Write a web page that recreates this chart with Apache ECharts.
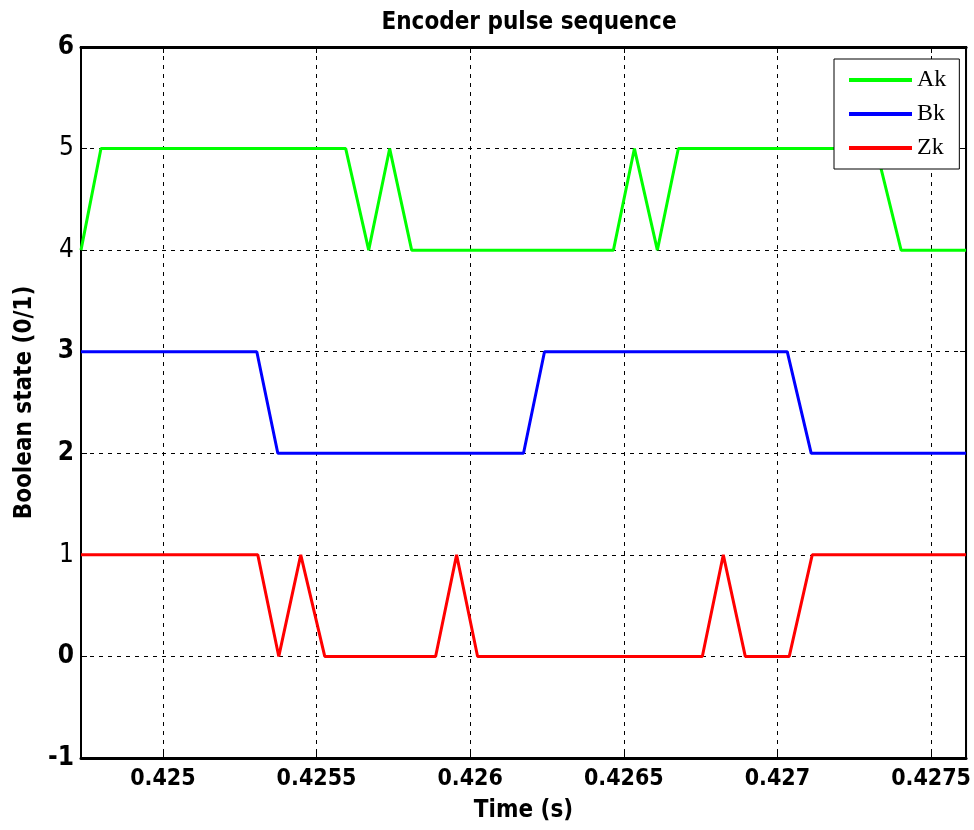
<!DOCTYPE html>
<html><head><meta charset="utf-8">
<script src="https://cdn.jsdelivr.net/npm/echarts@6/dist/echarts.min.js"></script>
<style>html,body{margin:0;padding:0;background:#fff;overflow:hidden}#c{width:974px;height:830px}</style>
</head><body><div id="c"></div>
<script>
const xTicks = [0.425, 0.4255, 0.426, 0.4265, 0.427, 0.4275];
const xTickLabels = ['0.425', '0.4255', '0.426', '0.4265', '0.427', '0.4275'];
const yTicks = [-1, 0, 1, 2, 3, 4, 5, 6];
const seriesNames = ['Ak', 'Bk', 'Zk'];

const akTime  = [0.4247334, 0.4247984, 0.4255949, 0.4256697, 0.4257380, 0.4258095, 0.4264662, 0.4265345, 0.4266092, 0.4266775, 0.4273212, 0.4274025, 0.4276138];
const akState = [4, 5, 5, 4, 5, 4, 4, 5, 4, 5, 5, 4, 4];

const bkTime  = [0.4247334, 0.4253056, 0.4253739, 0.4261736, 0.4262419, 0.4270319, 0.4271099, 0.4276138];
const bkState = [3, 3, 2, 2, 3, 3, 2, 2];

const zkTime  = [0.4247334, 0.4253088, 0.4253771, 0.4254486, 0.4255267, 0.4258875, 0.4259558, 0.4260241, 0.4267555, 0.4268238, 0.4268953, 0.4270384, 0.4271132, 0.4276138];
const zkState = [1, 1, 0, 1, 0, 0, 1, 0, 0, 1, 0, 0, 1, 1];

const xMin = 0.4247334, xMax = 0.4276138;
const narrow = "'Liberation Sans Narrow','DejaVu Sans Condensed','Arial Narrow',sans-serif";
const colors = ['#00ff00', '#0000ff', '#ff0000'];

const pairs = (t, s) => t.map((v, i) => [v, s[i]]);
const chart = echarts.init(document.getElementById('c'), null, {renderer: 'canvas', width: 974, height: 830});

const xLabelFmt = v => {
  const i = xTicks.findIndex(t => Math.abs(t - v) < 1e-9);
  return i >= 0 ? xTickLabels[i] : '';
};

chart.setOption({
  animation: false,
  backgroundColor: '#fff',
  title: {
    text: 'Encoder pulse sequence',
    left: 524, top: 6, textAlign: 'center',
    textStyle: {fontFamily: narrow, fontWeight: 'bold', fontSize: 24, color: '#000'}
  },
  legend: {
    orient: 'vertical', left: 834, top: 59,
    padding: [9, 13, 9, 15],
    backgroundColor: '#fff', borderColor: '#000', borderWidth: 1,
    itemWidth: 63, itemHeight: 4, itemGap: 10, icon: 'rect',
    textStyle: {fontFamily: "'Liberation Serif','DejaVu Serif',serif", fontSize: 24, lineHeight: 24, color: '#000', padding: [0,0,0,0]},
    data: seriesNames
  },
  grid: {left: 81, right: 7, top: 47, bottom: 72, show: true, borderColor: '#000', borderWidth: 2, containLabel: false},
  xAxis: [{
    type: 'value', min: xMin, max: xMax,
    name: 'Time (s)', nameLocation: 'middle', nameGap: 41,
    nameTextStyle: {fontFamily: narrow, fontWeight: 'bold', fontSize: 24, color: '#000'},
    axisLine: {show: true, onZero: false, lineStyle: {color: '#000', width: 3}},
    axisTick: {show: true, inside: true, length: 6, lineStyle: {color: '#000', width: 1}, customValues: xTicks},
    axisLabel: {show: true, customValues: xTicks, formatter: xLabelFmt, margin: 10, fontFamily: narrow, fontWeight: 'bold', fontSize: 23, color: '#000'},
    splitLine: {show: true, lineStyle: {color: '#000', width: 1, type: [4, 5]}}
  }, {
    type: 'value', min: xMin, max: xMax, position: 'top',
    axisLine: {show: true, onZero: false, lineStyle: {color: '#000', width: 3}},
    axisTick: {show: true, inside: true, length: 6, lineStyle: {color: '#000'}, customValues: xTicks},
    axisLabel: {show: false, customValues: xTicks},
    splitLine: {show: false}
  }],
  yAxis: [{
    type: 'value', min: -1, max: 6, interval: 1,
    name: 'Boolean state (0/1)', nameLocation: 'middle', nameGap: 42,
    nameTextStyle: {fontFamily: narrow, fontWeight: 'bold', fontSize: 24, color: '#000'},
    axisLine: {show: true, onZero: false, lineStyle: {color: '#000', width: 2}},
    axisTick: {show: true, inside: true, length: 6, lineStyle: {color: '#000'}},
    axisLabel: {
      margin: 7,
      formatter: v => (v === 5 || v === 4 || v === 1) ? '{r|' + v + '}' : '{b|' + v + '}',
      rich: {
        b: {fontFamily: narrow, fontWeight: 'bold', fontSize: 26, color: '#000'},
        r: {fontFamily: narrow, fontWeight: 'normal', fontSize: 26, color: '#000'}
      }
    },
    splitLine: {show: true, lineStyle: {color: '#000', width: 1, type: [4, 5]}}
  }, {
    type: 'value', min: -1, max: 6, interval: 1, position: 'right',
    axisLine: {show: true, onZero: false, lineStyle: {color: '#000', width: 2}},
    axisTick: {show: true, inside: true, length: 6, lineStyle: {color: '#000'}},
    axisLabel: {show: false}, splitLine: {show: false}
  }],
  series: [
    {name: 'Ak', type: 'line', data: pairs(akTime, akState)},
    {name: 'Bk', type: 'line', data: pairs(bkTime, bkState)},
    {name: 'Zk', type: 'line', data: pairs(zkTime, zkState)}
  ].map((s, i) => Object.assign(s, {
    showSymbol: false, symbol: 'none', color: colors[i],
    lineStyle: {color: colors[i], width: 3}, z: 3, xAxisIndex: 0, yAxisIndex: 0
  }))
});
</script></body></html>
